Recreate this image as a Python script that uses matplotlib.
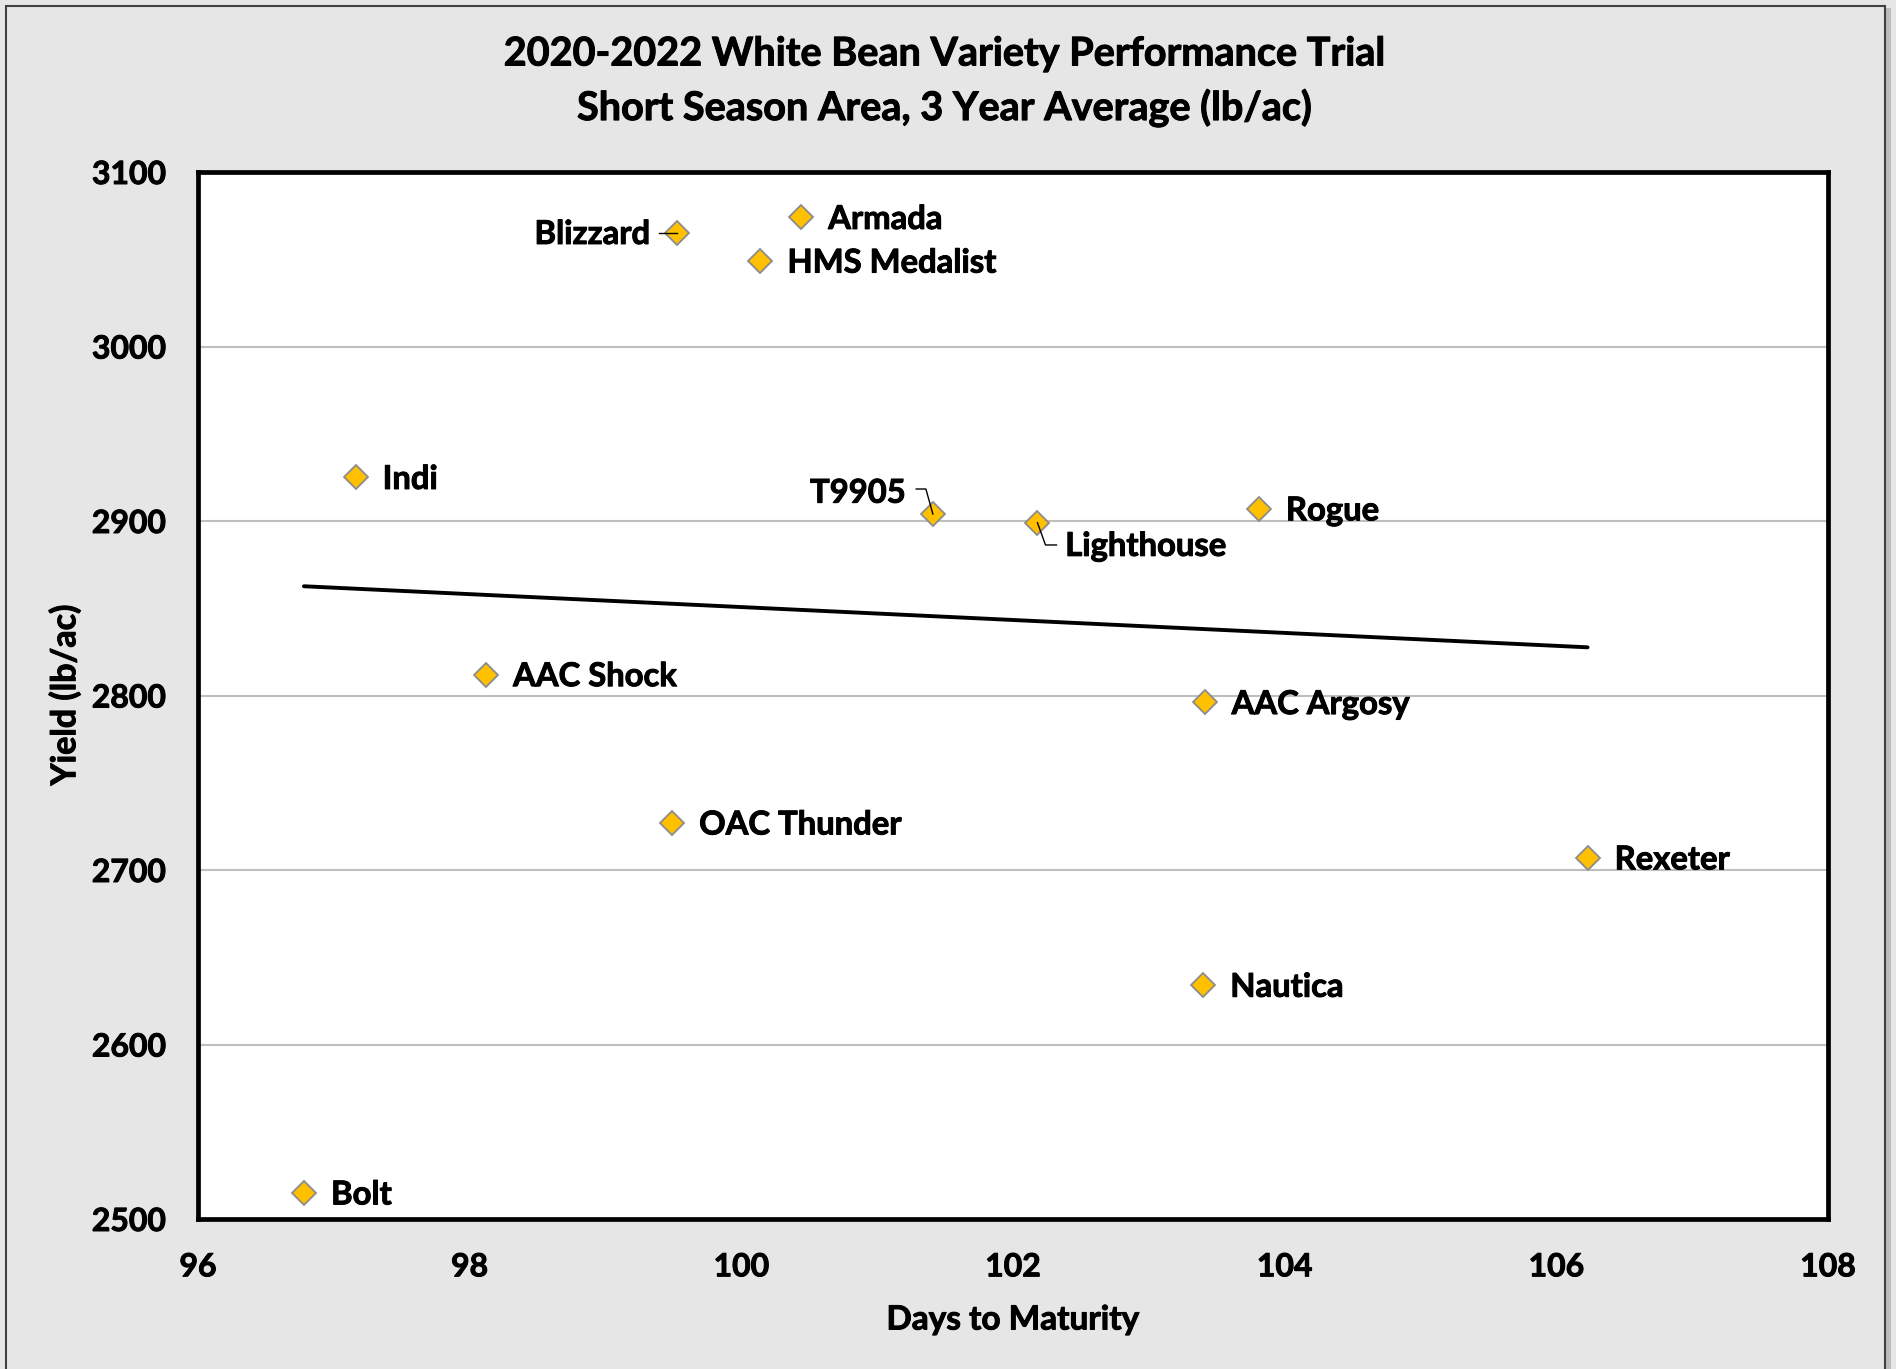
import matplotlib
matplotlib.use("Agg")
import matplotlib.pyplot as plt
import matplotlib.transforms as mtransforms
import matplotlib.patheffects as pe
from matplotlib.patches import Rectangle
import numpy as np

plt.rcParams["font.family"] = ["Lato", "DejaVu Sans"]
plt.rcParams["font.weight"] = "bold"

# datos
varieties = ["Bolt", "Indi", "AAC Shock", "OAC Thunder", "Blizzard", "HMS Medalist",
             "Armada", "T9905", "Lighthouse", "Rogue", "AAC Argosy", "Nautica", "Rexeter"]
days = [96.78, 97.16, 98.12, 99.49, 99.53, 100.14, 100.44, 101.41, 102.18, 103.81,
        103.41, 103.40, 106.23]
yield_lb = [2515, 2925, 2812, 2727, 3065, 3049, 3074, 2904, 2899, 2907, 2796, 2634, 2707]

x_ticks = [96, 98, 100, 102, 104, 106, 108]
y_ticks = [2500, 2600, 2700, 2800, 2900, 3000, 3100]

BG = "#E6E6E6"
GOLD = "#FFC000"
# engrosa un poco el trazo para parecerse a Calibri Bold
BOLD = [pe.withStroke(linewidth=0.7, foreground="black")]

fig = plt.figure(figsize=(18.96, 13.69), dpi=100, facecolor=BG)
W, H = 1896, 1369

# marco del gráfico con sombra a la derecha
fig.patches.append(Rectangle((1886 / W, -0.1), 5 / W, 1.1 - 8 / H, transform=fig.transFigure,
                             facecolor="#BDBDBD", edgecolor="none", zorder=-3))
fig.patches.append(Rectangle((6 / W, -0.1), 1879 / W, 1.1 - 6 / H, transform=fig.transFigure,
                             facecolor=BG, edgecolor="#404040", linewidth=1.5, zorder=-2))

ax = fig.add_axes([198 / W, 1 - 1219 / H, 1630 / W, 1047 / H])
ax.set_facecolor("white")
ax.set_xlim(96, 108)
ax.set_ylim(2500, 3100)
ax.set_xticks(x_ticks)
ax.set_yticks(y_ticks)
ax.tick_params(length=0, labelsize=23)
ax.tick_params(axis="y", pad=23)
ax.tick_params(axis="x", pad=24)
for lab in ax.get_xticklabels() + ax.get_yticklabels():
    lab.set_fontweight("bold")
    lab.set_path_effects(BOLD)
ax.grid(axis="y", color="#BFBFBF", linewidth=1.5)
ax.set_axisbelow(True)
for s in ax.spines.values():
    s.set_color("black")
    s.set_linewidth(3.4)

# línea de tendencia lineal
coef = np.polyfit(days, yield_lb, 1)
xt = np.array([min(days), max(days)])
ax.plot(xt, np.polyval(coef, xt), color="black", linewidth=2.8, zorder=2, solid_capstyle="round")

ax.plot(days, yield_lb, linestyle="none", marker="D", markersize=12,
        markerfacecolor=GOLD, markeredgecolor="#8C8C8C", markeredgewidth=1.3, zorder=3)

# desplazamientos de etiquetas en puntos (dx, dy, ha)
offsets = {
    "Blizzard": (-20, -1, "right"),
    "T9905": (-19.5, 15, "right"),
    "Lighthouse": (20, -17, "left"),
}
for name, x, y in zip(varieties, days, yield_lb):
    dx, dy, ha = offsets.get(name, (19.5, -1.5, "left"))
    ax.annotate(name, (x, y), xytext=(dx, dy), textcoords="offset points",
                ha=ha, va="center", fontsize=23.6, fontweight="bold", color="black",
                zorder=4, path_effects=BOLD)

# líneas guía de las etiquetas desplazadas (en puntos respecto al punto)
leaders = {
    "Blizzard": ([-13, 0], [0, 0]),
    "T9905": ([-12, -5, 0], [18, 18, 0]),
    "Lighthouse": ([0, 5.8, 13.7], [0, -16, -16]),
}
for name, (lx, ly) in leaders.items():
    i = varieties.index(name)
    tr = mtransforms.Affine2D().scale(fig.dpi / 72) + \
        mtransforms.ScaledTranslation(days[i], yield_lb[i], ax.transData)
    ax.plot(lx, ly, color="black", linewidth=1.0, transform=tr, zorder=5)

fig.text(0.4984, 1 - 54 / H, "2020-2022 White Bean Variety Performance Trial",
         ha="center", va="center", fontsize=28.5, fontweight="bold", path_effects=BOLD)
fig.text(0.4984, 1 - 108 / H, "Short Season Area, 3 Year Average (lb/ac)",
         ha="center", va="center", fontsize=28.5, fontweight="bold", path_effects=BOLD)
fig.text(1013 / W, 1 - 1320 / H, "Days to Maturity", ha="center", va="center",
         fontsize=24, fontweight="bold", path_effects=BOLD)
fig.text(65 / W, 1 - 695 / H, "Yield (lb/ac)", ha="center", va="center", rotation=90,
         fontsize=24.5, fontweight="bold", path_effects=BOLD)

fig.savefig("out.png", dpi=100, facecolor=BG)
